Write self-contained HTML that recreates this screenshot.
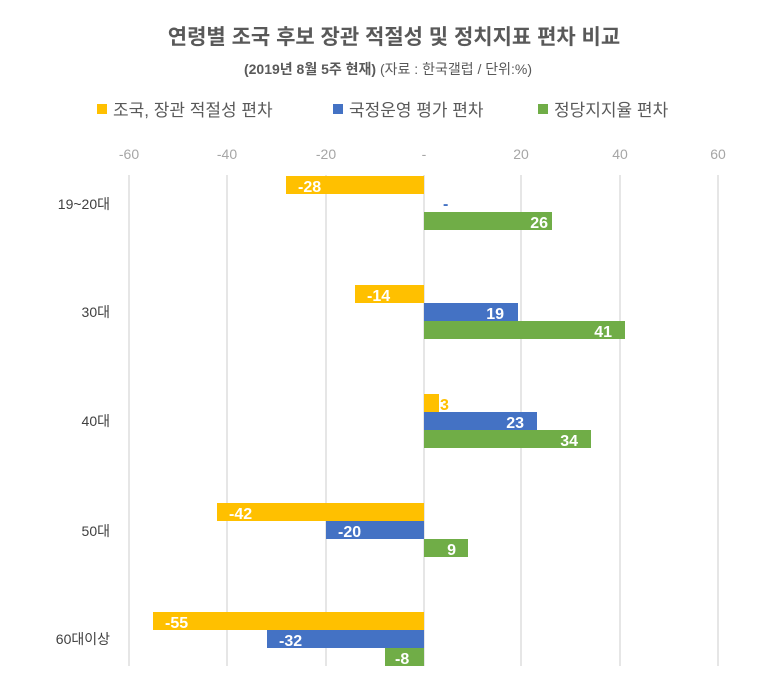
<!DOCTYPE html>
<html><head><meta charset="utf-8"><style>
body{margin:0;background:#fff;}
svg{display:block;font-family:"Liberation Sans","Noto Sans CJK KR",sans-serif;}
</style></head><body>
<svg width="773" height="698" viewBox="0 0 773 698">
<rect width="773" height="698" fill="#fff"/>
<text x="394" y="44" text-anchor="middle" font-size="21" font-weight="bold" fill="#595959">연령별 조국 후보 장관 적절성 및 정치지표 편차 비교</text>
<text x="388" y="74" text-anchor="middle" font-size="14" fill="#595959"><tspan font-weight="bold">(2019년 8월 5주 현재)</tspan> (자료 : 한국갤럽 / 단위:%)</text>
<rect x="97" y="104" width="10" height="10" fill="#ffc000"/>
<text x="113" y="116" font-size="17" fill="#595959">조국, 장관 적절성 편차</text>
<rect x="333" y="104" width="10" height="10" fill="#4472c4"/>
<text x="349" y="116" font-size="17" fill="#595959">국정운영 평가 편차</text>
<rect x="538" y="104" width="10" height="10" fill="#70ad47"/>
<text x="554" y="116" font-size="17" fill="#595959">정당지지율 편차</text>
<g font-size="14" fill="#a6a6a6" text-anchor="middle">
<text x="129" y="159">-60</text><text x="227" y="159">-40</text><text x="326" y="159">-20</text><text x="424" y="159">-</text><text x="521" y="159">20</text><text x="620" y="159">40</text><text x="718" y="159">60</text>
</g>
<g stroke="#d9d9d9" stroke-width="1.3">
<line x1="129" y1="175" x2="129" y2="666"/><line x1="227" y1="175" x2="227" y2="666"/><line x1="326" y1="175" x2="326" y2="666"/><line x1="424" y1="175" x2="424" y2="666"/><line x1="521" y1="175" x2="521" y2="666"/><line x1="620" y1="175" x2="620" y2="666"/><line x1="718" y1="175" x2="718" y2="666"/>
</g>
<g font-size="14" fill="#404040" text-anchor="end">
<text x="110" y="209">19~20대</text><text x="110" y="317">30대</text><text x="110" y="426">40대</text><text x="110" y="536">50대</text><text x="110" y="644">60대이상</text>
</g>
<g font-size="16" font-weight="bold" fill="#fff">
<rect x="286" y="176" width="138" height="18" fill="#ffc000"/><text x="298" y="192">-28</text>
<text x="443" y="209" fill="#4472c4">-</text>
<rect x="424" y="212" width="128" height="18" fill="#70ad47"/><text x="548" y="228" text-anchor="end">26</text>
<rect x="355" y="285" width="69" height="18" fill="#ffc000"/><text x="367" y="301">-14</text>
<rect x="424" y="303" width="94" height="18" fill="#4472c4"/><text x="504" y="319" text-anchor="end">19</text>
<rect x="424" y="321" width="201" height="18" fill="#70ad47"/><text x="612" y="337" text-anchor="end">41</text>
<rect x="424" y="394" width="15" height="18" fill="#ffc000"/><text x="440" y="410" fill="#ffc000">3</text>
<rect x="424" y="412" width="113" height="18" fill="#4472c4"/><text x="524" y="428" text-anchor="end">23</text>
<rect x="424" y="430" width="167" height="18" fill="#70ad47"/><text x="578" y="446" text-anchor="end">34</text>
<rect x="217" y="503" width="207" height="18" fill="#ffc000"/><text x="229" y="519">-42</text>
<rect x="326" y="521" width="98" height="18" fill="#4472c4"/><text x="338" y="537">-20</text>
<rect x="424" y="539" width="44" height="18" fill="#70ad47"/><text x="456" y="555" text-anchor="end">9</text>
<rect x="153" y="612" width="271" height="18" fill="#ffc000"/><text x="165" y="628">-55</text>
<rect x="267" y="630" width="157" height="18" fill="#4472c4"/><text x="279" y="646">-32</text>
<rect x="385" y="648" width="39" height="18" fill="#70ad47"/><text x="395" y="664">-8</text>
</g>
</svg>
</body></html>
